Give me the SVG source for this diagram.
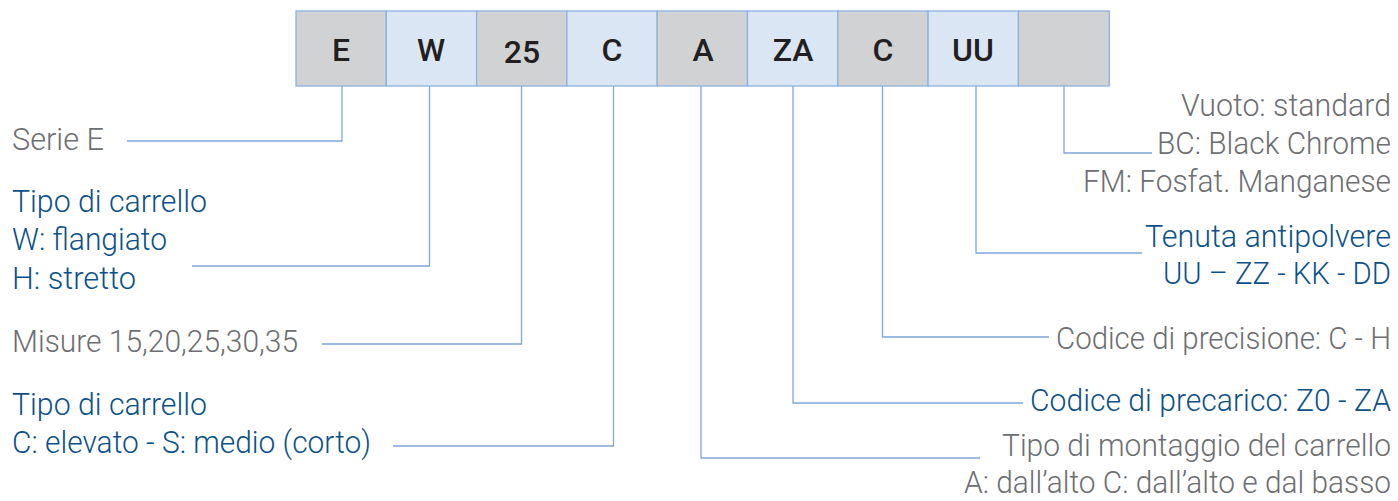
<svg xmlns="http://www.w3.org/2000/svg" width="1398" height="501" viewBox="0 0 1398 501">
<style>
.bg{fill:#ffffff}
.g{fill:#d1d2d3;stroke:#8eb2de;stroke-width:1.3}
.b{fill:#dbe6f5;stroke:#8eb2de;stroke-width:1.3}
.code{font-family:Roboto,"Liberation Sans",sans-serif;font-size:32px;font-weight:500;fill:#231f20;text-anchor:middle}
.t{font-family:Roboto,"Liberation Sans",sans-serif;font-size:32px;font-weight:300}
.r{text-anchor:end}
.gr{fill:#6d6e71}
.bl{fill:#0d5188}
.c{fill:none;stroke:#7fa7da;stroke-width:1.3}
</style>
<rect class="bg" x="0" y="0" width="1398" height="501"/>
<g id="code-E"><rect class="g" x="296" y="11" width="90.3" height="75"/><text class="code" x="341" y="61">E</text></g>
<g id="code-W"><rect class="b" x="386.3" y="11" width="90.3" height="75"/><text class="code" x="431" y="61">W</text></g>
<g id="code-25"><rect class="g" x="476.6" y="11" width="90.3" height="75"/><text class="code" x="522" y="63">25</text></g>
<g id="code-C"><rect class="b" x="566.9" y="11" width="90.3" height="75"/><text class="code" x="612" y="61">C</text></g>
<g id="code-A"><rect class="g" x="657.2" y="11" width="90.3" height="75"/><text class="code" x="703" y="61">A</text></g>
<g id="code-ZA"><rect class="b" x="747.5" y="11" width="90.3" height="75"/><text class="code" x="793" y="61">ZA</text></g>
<g id="code-C2"><rect class="g" x="837.8" y="11" width="90.3" height="75"/><text class="code" x="883" y="61">C</text></g>
<g id="code-UU"><rect class="b" x="928.1" y="11" width="90.3" height="75"/><text class="code" x="973" y="61">UU</text></g>
<g id="code-blank"><rect class="g" x="1018.4" y="11" width="90.9" height="75"/></g>

<g id="connectors">
<polyline class="c" points="342,86 342,141 127,141"/>
<polyline class="c" points="429.5,86 429.5,266 192,266"/>
<polyline class="c" points="521.5,86 521.5,344 322,344"/>
<polyline class="c" points="613.5,86 613.5,446 393,446"/>
<polyline class="c" points="701,86 701,458 980,458"/>
<polyline class="c" points="793,86 793,403 1023,403"/>
<polyline class="c" points="882.5,86 882.5,337 1049,337"/>
<polyline class="c" points="976,86 976,253 1142,253"/>
<polyline class="c" points="1064,86 1064,153 1152,153"/>
</g>

<g id="label-serie"><text class="t gr" x="12" y="150" textLength="92" lengthAdjust="spacingAndGlyphs">Serie E</text></g>
<g id="label-tipo-w">
<text class="t bl" x="12" y="212" textLength="195" lengthAdjust="spacingAndGlyphs">Tipo di carrello</text>
<text class="t bl" x="12" y="250" textLength="155" lengthAdjust="spacingAndGlyphs">W: flangiato</text>
<text class="t bl" x="12" y="289" textLength="124" lengthAdjust="spacingAndGlyphs">H: stretto</text>
</g>
<g id="label-misure"><text class="t gr" x="12" y="352" textLength="286" lengthAdjust="spacingAndGlyphs">Misure 15,20,25,30,35</text></g>
<g id="label-tipo-c">
<text class="t bl" x="12" y="415" textLength="195" lengthAdjust="spacingAndGlyphs">Tipo di carrello</text>
<text class="t bl" x="12" y="453" textLength="359" lengthAdjust="spacingAndGlyphs">C: elevato - S: medio (corto)</text>
</g>
<g id="label-finitura">
<text class="t gr r" x="1391" y="116" textLength="210" lengthAdjust="spacingAndGlyphs">Vuoto: standard</text>
<text class="t gr r" x="1391" y="154" textLength="234" lengthAdjust="spacingAndGlyphs">BC: Black Chrome</text>
<text class="t gr r" x="1391" y="192" textLength="308" lengthAdjust="spacingAndGlyphs">FM: Fosfat. Manganese</text>
</g>
<g id="label-tenuta">
<text class="t bl r" x="1391" y="247" textLength="246" lengthAdjust="spacingAndGlyphs">Tenuta antipolvere</text>
<text class="t bl r" x="1391" y="284" textLength="228" lengthAdjust="spacingAndGlyphs">UU – ZZ - KK - DD</text>
</g>
<g id="label-precisione"><text class="t gr r" x="1391" y="349" textLength="335" lengthAdjust="spacingAndGlyphs">Codice di precisione: C - H</text></g>
<g id="label-precarico"><text class="t bl r" x="1391" y="411" textLength="361" lengthAdjust="spacingAndGlyphs">Codice di precarico: Z0 - ZA</text></g>
<g id="label-montaggio">
<text class="t gr r" x="1391" y="456" textLength="389" lengthAdjust="spacingAndGlyphs">Tipo di montaggio del carrello</text>
<text class="t gr r" x="1391" y="493" textLength="427" lengthAdjust="spacingAndGlyphs">A: dall’alto C: dall’alto e dal basso</text>
</g>
</svg>
